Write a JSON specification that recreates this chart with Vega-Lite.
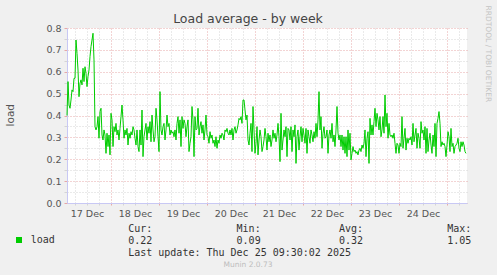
{
"$schema": "https://vega.github.io/schema/vega-lite/v6.json",
"width": 400, "height": 175,
"autosize": {"type": "none"},
"padding": {"left": 67, "top": 28, "right": 30, "bottom": 72},
"background": "#f0f0f0",
"config": {"view": {"fill": "#ffffff", "stroke": null}, "font": "DejaVu Sans"},
"title": {"text": "Load average - by week", "fontSize": 12.5, "font": "DejaVu Sans", "fontWeight": "normal", "color": "#444444", "anchor": "middle", "dx": -19, "dy": 24, "offset": 4},
"data": {"values": [
{"h":2,"v":0.40},{"h":2.5,"v":0.555},{"h":3,"v":0.448},{"h":3.5,"v":0.433},{"h":4,"v":0.471},{"h":4.5,"v":0.517},{"h":5,"v":0.509},{"h":5.5,"v":0.57},{"h":6,"v":0.57},{"h":6.5,"v":0.745},{"h":7,"v":0.684},{"h":7.5,"v":0.608},{"h":8,"v":0.486},{"h":8.5,"v":0.547},{"h":9,"v":0.563},{"h":9.5,"v":0.54},{"h":10,"v":0.616},{"h":10.5,"v":0.555},{"h":11,"v":0.623},{"h":11.5,"v":0.593},{"h":12,"v":0.532},{"h":12.5,"v":0.578},{"h":13,"v":0.608},{"h":13.5,"v":0.669},{"h":14,"v":0.715},{"h":14.5,"v":0.745},{"h":15,"v":0.776},{"h":15.5,"v":0.654},{"h":16,"v":0.349},{"h":16.5,"v":0.334},{"h":17,"v":0.349},{"h":17.5,"v":0.395},{"h":18,"v":0.296},{"h":18.5,"v":0.418},{"h":19,"v":0.433},{"h":19.5,"v":0.311},{"h":20,"v":0.288},{"h":20.5,"v":0.334},{"h":21,"v":0.311},{"h":21.5,"v":0.227},{"h":22,"v":0.319},{"h":22.5,"v":0.258},{"h":23,"v":0.311},{"h":23.5,"v":0.22},{"h":24,"v":0.41},{"h":24.5,"v":0.38},{"h":25,"v":0.258},{"h":25.5,"v":0.349},{"h":26,"v":0.326},{"h":26.5,"v":0.364},{"h":27,"v":0.311},{"h":27.5,"v":0.334},{"h":28,"v":0.288},{"h":28.5,"v":0.341},{"h":29,"v":0.395},{"h":29.5,"v":0.448},{"h":30,"v":0.38},{"h":30.5,"v":0.296},{"h":31,"v":0.334},{"h":31.5,"v":0.311},{"h":32,"v":0.341},{"h":32.5,"v":0.265},{"h":33,"v":0.319},{"h":33.5,"v":0.296},{"h":34,"v":0.326},{"h":34.5,"v":0.311},{"h":35,"v":0.349},{"h":35.5,"v":0.334},
{"h":36,"v":0.296},{"h":36.5,"v":0.265},{"h":37,"v":0.334},{"h":37.5,"v":0.258},{"h":38,"v":0.235},{"h":38.5,"v":0.334},{"h":39,"v":0.265},{"h":39.5,"v":0.425},{"h":40,"v":0.212},{"h":40.5,"v":0.303},{"h":41,"v":0.334},{"h":41.5,"v":0.364},{"h":42,"v":0.288},{"h":42.5,"v":0.349},{"h":43,"v":0.319},{"h":43.5,"v":0.372},{"h":44,"v":0.28},{"h":44.5,"v":0.402},{"h":45,"v":0.334},{"h":45.5,"v":0.28},{"h":46,"v":0.303},{"h":46.5,"v":0.433},{"h":47,"v":0.38},{"h":47.5,"v":0.303},{"h":48,"v":0.235},{"h":48.5,"v":0.509},{"h":49,"v":0.334},{"h":49.5,"v":0.311},{"h":50,"v":0.349},{"h":50.5,"v":0.364},{"h":51,"v":0.288},{"h":51.5,"v":0.334},{"h":52,"v":0.402},{"h":52.5,"v":0.349},{"h":53,"v":0.364},{"h":53.5,"v":0.311},{"h":54,"v":0.334},{"h":54.5,"v":0.319},{"h":55,"v":0.326},{"h":55.5,"v":0.303},{"h":56,"v":0.334},{"h":56.5,"v":0.288},{"h":57,"v":0.364},{"h":57.5,"v":0.395},{"h":58,"v":0.319},{"h":58.5,"v":0.38},{"h":59,"v":0.258},{"h":59.5,"v":0.395},{"h":60,"v":0.341},{"h":60.5,"v":0.38},{"h":61,"v":0.364},{"h":61.5,"v":0.303},{"h":62,"v":0.349},{"h":62.5,"v":0.38},{"h":63,"v":0.235},{"h":63.5,"v":0.273},{"h":64,"v":0.303},{"h":64.5,"v":0.441},{"h":65,"v":0.38},{"h":65.5,"v":0.212},{"h":66,"v":0.395},{"h":66.5,"v":0.334},{"h":67,"v":0.341},{"h":67.5,"v":0.433},{"h":68,"v":0.311},{"h":68.5,"v":0.349},{"h":69,"v":0.372},
{"h":69.5,"v":0.319},{"h":70,"v":0.357},{"h":70.5,"v":0.288},{"h":71,"v":0.334},{"h":71.5,"v":0.402},{"h":72,"v":0.311},{"h":72.5,"v":0.303},{"h":73,"v":0.273},{"h":73.5,"v":0.326},{"h":74,"v":0.296},{"h":74.5,"v":0.311},{"h":75,"v":0.273},{"h":75.5,"v":0.288},{"h":76,"v":0.258},{"h":76.5,"v":0.303},{"h":77,"v":0.25},{"h":77.5,"v":0.288},{"h":78,"v":0.273},{"h":78.5,"v":0.311},{"h":79,"v":0.296},{"h":79.5,"v":0.319},{"h":80,"v":0.311},{"h":80.5,"v":0.288},{"h":81,"v":0.334},{"h":81.5,"v":0.326},{"h":82,"v":0.341},{"h":82.5,"v":0.319},{"h":83,"v":0.311},{"h":83.5,"v":0.334},{"h":84,"v":0.311},{"h":84.5,"v":0.341},{"h":85,"v":0.288},{"h":85.5,"v":0.334},{"h":86,"v":0.349},{"h":86.5,"v":0.319},{"h":87,"v":0.334},{"h":87.5,"v":0.357},{"h":88,"v":0.387},{"h":88.5,"v":0.38},{"h":89,"v":0.395},{"h":89.5,"v":0.364},{"h":90,"v":0.471},{"h":90.5,"v":0.471},{"h":91,"v":0.425},{"h":91.5,"v":0.38},{"h":92,"v":0.402},{"h":92.5,"v":0.288},{"h":93,"v":0.265},{"h":93.5,"v":0.319},{"h":94,"v":0.364},{"h":94.5,"v":0.235},{"h":95,"v":0.441},{"h":95.5,"v":0.334},{"h":96,"v":0.227},{"h":96.5,"v":0.273},{"h":97,"v":0.349},{"h":97.5,"v":0.22},{"h":98,"v":0.288},{"h":98.5,"v":0.334},{"h":99,"v":0.303},{"h":99.5,"v":0.235},{"h":100,"v":0.258},{"h":100.5,"v":0.288},{"h":101,"v":0.341},{"h":101.5,"v":0.303},{"h":102,"v":0.242},{"h":102.5,"v":0.319},{"h":103,"v":0.28},
{"h":103.5,"v":0.311},{"h":104,"v":0.258},{"h":104.5,"v":0.288},{"h":105,"v":0.334},{"h":105.5,"v":0.296},{"h":106,"v":0.319},{"h":106.5,"v":0.28},{"h":107,"v":0.311},{"h":107.5,"v":0.364},{"h":108,"v":0.303},{"h":108.5,"v":0.189},{"h":109,"v":0.41},{"h":109.5,"v":0.242},{"h":110,"v":0.288},{"h":110.5,"v":0.334},{"h":111,"v":0.303},{"h":111.5,"v":0.349},{"h":112,"v":0.212},{"h":112.5,"v":0.341},{"h":113,"v":0.334},{"h":113.5,"v":0.288},{"h":114,"v":0.349},{"h":114.5,"v":0.235},{"h":115,"v":0.334},{"h":115.5,"v":0.303},{"h":116,"v":0.357},{"h":116.5,"v":0.181},{"h":117,"v":0.303},{"h":117.5,"v":0.334},{"h":118,"v":0.242},{"h":118.5,"v":0.303},{"h":119,"v":0.349},{"h":119.5,"v":0.28},{"h":120,"v":0.341},{"h":120.5,"v":0.311},{"h":121,"v":0.273},{"h":121.5,"v":0.341},{"h":122,"v":0.227},{"h":122.5,"v":0.334},{"h":123,"v":0.303},{"h":123.5,"v":0.273},{"h":124,"v":0.334},{"h":124.5,"v":0.311},{"h":125,"v":0.28},{"h":125.5,"v":0.326},{"h":126,"v":0.296},{"h":126.5,"v":0.364},{"h":127,"v":0.303},{"h":127.5,"v":0.38},{"h":128,"v":0.509},{"h":128.5,"v":0.334},{"h":129,"v":0.395},{"h":129.5,"v":0.25},{"h":130,"v":0.319},{"h":130.5,"v":0.349},{"h":131,"v":0.296},{"h":131.5,"v":0.303},{"h":132,"v":0.334},{"h":132.5,"v":0.227},{"h":133,"v":0.311},{"h":133.5,"v":0.334},{"h":134,"v":0.296},{"h":134.5,"v":0.364},{"h":135,"v":0.28},{"h":135.5,"v":0.311},{"h":136,"v":0.258},{"h":136.5,"v":0.334},{"h":137,"v":0.441},
{"h":137.5,"v":0.319},{"h":138,"v":0.288},{"h":138.5,"v":0.311},{"h":139,"v":0.258},{"h":139.5,"v":0.311},{"h":140,"v":0.242},{"h":140.5,"v":0.303},{"h":141,"v":0.227},{"h":141.5,"v":0.303},{"h":142,"v":0.212},{"h":142.5,"v":0.334},{"h":143,"v":0.242},{"h":143.5,"v":0.319},{"h":144,"v":0.197},{"h":144.5,"v":0.227},{"h":145,"v":0.258},{"h":145.5,"v":0.235},{"h":146,"v":0.242},{"h":146.5,"v":0.227},{"h":147,"v":0.235},{"h":147.5,"v":0.22},{"h":148,"v":0.242},{"h":148.5,"v":0.25},{"h":149,"v":0.235},{"h":149.5,"v":0.265},{"h":150,"v":0.25},{"h":150.5,"v":0.273},{"h":151,"v":0.334},{"h":151.5,"v":0.212},{"h":152,"v":0.296},{"h":152.5,"v":0.326},{"h":153,"v":0.181},{"h":153.5,"v":0.387},{"h":154,"v":0.311},{"h":154.5,"v":0.357},{"h":155,"v":0.311},{"h":155.5,"v":0.372},{"h":156,"v":0.433},{"h":156.5,"v":0.349},{"h":157,"v":0.41},{"h":157.5,"v":0.38},{"h":158,"v":0.334},{"h":158.5,"v":0.395},{"h":159,"v":0.303},{"h":159.5,"v":0.334},{"h":160,"v":0.395},{"h":160.5,"v":0.319},{"h":161,"v":0.494},{"h":161.5,"v":0.349},{"h":162,"v":0.41},{"h":162.5,"v":0.296},{"h":163,"v":0.364},{"h":163.5,"v":0.311},{"h":164,"v":0.303},{"h":164.5,"v":0.311},{"h":165,"v":0.296},{"h":165.5,"v":0.319},{"h":166,"v":0.273},{"h":166.5,"v":0.227},{"h":167,"v":0.273},{"h":167.5,"v":0.265},{"h":168,"v":0.227},{"h":168.5,"v":0.273},{"h":169,"v":0.258},{"h":169.5,"v":0.395},{"h":170,"v":0.25},{"h":170.5,"v":0.296},{"h":171,"v":0.341},
{"h":171.5,"v":0.242},{"h":172,"v":0.296},{"h":172.5,"v":0.273},{"h":173,"v":0.296},{"h":173.5,"v":0.288},{"h":174,"v":0.303},{"h":174.5,"v":0.265},{"h":175,"v":0.364},{"h":175.5,"v":0.28},{"h":176,"v":0.311},{"h":176.5,"v":0.341},{"h":177,"v":0.25},{"h":177.5,"v":0.319},{"h":178,"v":0.296},{"h":178.5,"v":0.25},{"h":179,"v":0.372},{"h":179.5,"v":0.319},{"h":180,"v":0.334},{"h":180.5,"v":0.288},{"h":181,"v":0.349},{"h":181.5,"v":0.227},{"h":182,"v":0.341},{"h":182.5,"v":0.235},{"h":183,"v":0.288},{"h":183.5,"v":0.319},{"h":184,"v":0.265},{"h":184.5,"v":0.227},{"h":185,"v":0.311},{"h":185.5,"v":0.258},{"h":186,"v":0.364},{"h":186.5,"v":0.212},{"h":187,"v":0.364},{"h":187.5,"v":0.387},{"h":188,"v":0.418},{"h":188.5,"v":0.364},{"h":189,"v":0.258},{"h":189.5,"v":0.28},{"h":190,"v":0.265},{"h":190.5,"v":0.273},{"h":191,"v":0.258},{"h":191.5,"v":0.212},{"h":192,"v":0.265},{"h":192.5,"v":0.326},{"h":193,"v":0.303},{"h":193.5,"v":0.235},{"h":194,"v":0.341},{"h":194.5,"v":0.258},{"h":195,"v":0.273},{"h":195.5,"v":0.227},{"h":196,"v":0.258},{"h":196.5,"v":0.265},{"h":197,"v":0.273},{"h":197.5,"v":0.296},{"h":198,"v":0.25},{"h":198.5,"v":0.235},{"h":199,"v":0.28},{"h":199.5,"v":0.258},{"h":200,"v":0.28},{"h":200.5,"v":0.265},{"h":201,"v":0.235},{"h":201.5,"v":0.227}
]},
"resolve": {"axis": {"x": "independent", "y": "independent"}},
"layer": [
{
"mark": {"type": "line", "strokeOpacity": 0},
"encoding": {
"x": {"field": "h", "type": "quantitative", "scale": {"domain": [2, 202], "nice": false, "zero": false},
"axis": {"orient": "bottom", "values": [6,12,18,30,36,42,54,60,66,78,84,90,102,108,114,126,132,138,150,156,162,174,180,186,198], "grid": true, "gridColor": "#d4d4d4", "gridDash": [1,2], "gridWidth": 1, "labels": false, "ticks": true, "tickColor": "#d4d4d4", "tickSize": 2, "domain": false,
"title": "Munin 2.0.73", "titleFont": "DejaVu Sans", "titleFontSize": 7.5, "titleFontWeight": "normal", "titleColor": "#bdbdbd", "titleX": 180.5, "titleY": 63.5, "titleAlign": "center", "titleBaseline": "alphabetic", "titleAngle": 0}},
"y": {"field": "v", "type": "quantitative", "scale": {"domain": [0, 0.8], "nice": false},
"axis": {"orient": "left", "values": [0.05,0.15,0.25,0.35,0.45,0.55,0.65,0.75], "grid": true, "gridColor": "#d4d4d4", "gridDash": [1,2], "gridWidth": 1, "labels": false, "ticks": true, "tickColor": "#d4d4d4", "tickSize": 3, "domain": false,
"title": "RRDTOOL / TOBI OETIKER", "titleFont": "DejaVu Sans", "titleFontSize": 7.5, "titleFontWeight": "normal", "titleColor": "#c4c4c4", "titleAngle": 90, "titleX": 420.7, "titleY": -23, "titleAlign": "left", "titleBaseline": "middle"}}
}
},
{
"mark": {"type": "line", "strokeOpacity": 0},
"encoding": {
"x": {"field": "h", "type": "quantitative", "scale": {"domain": [2, 202], "nice": false, "zero": false},
"axis": {"orient": "bottom", "values": [24,48,72,96,120,144,168,192], "grid": true, "gridColor": "#e6a8a8", "gridDash": [1,2], "gridWidth": 1, "labels": false, "ticks": true, "tickColor": "#e6a8a8", "tickSize": 2, "domain": false,
"title": ["Cur:\u00a0\u00a0\u00a0\u00a0\u00a0\u00a0\u00a0\u00a0\u00a0\u00a0\u00a0\u00a0\u00a0\u00a0Min:\u00a0\u00a0\u00a0\u00a0\u00a0\u00a0\u00a0\u00a0\u00a0\u00a0\u00a0\u00a0\u00a0Avg:\u00a0\u00a0\u00a0\u00a0\u00a0\u00a0\u00a0\u00a0\u00a0\u00a0\u00a0\u00a0\u00a0\u00a0Max:", "\u00a0\u00a00.22\u00a0\u00a0\u00a0\u00a0\u00a0\u00a0\u00a0\u00a0\u00a0\u00a0\u00a0\u00a0\u00a0\u00a00.09\u00a0\u00a0\u00a0\u00a0\u00a0\u00a0\u00a0\u00a0\u00a0\u00a0\u00a0\u00a0\u00a00.32\u00a0\u00a0\u00a0\u00a0\u00a0\u00a0\u00a0\u00a0\u00a0\u00a0\u00a0\u00a0\u00a0\u00a01.05", "\u00a0\u00a0\u00a0\u00a0\u00a0\u00a0\u00a0\u00a0\u00a0\u00a0\u00a0\u00a0\u00a0\u00a0\u00a0\u00a0\u00a0\u00a0\u00a0\u00a0\u00a0\u00a0Last\u00a0update:\u00a0Thu\u00a0Dec\u00a025\u00a009:30:02\u00a02025"],
"titleFont": "DejaVu Sans Mono", "titleFontSize": 10, "titleFontWeight": "normal", "titleColor": "#333333", "titleX": 60.7, "titleY": 28.7, "titleAlign": "left", "titleBaseline": "alphabetic", "titleLineHeight": 12, "titleAngle": 0}},
"y": {"field": "v", "type": "quantitative", "scale": {"domain": [0, 0.8], "nice": false},
"axis": {"orient": "left", "values": [0,0.1,0.2,0.3,0.4,0.5,0.6,0.7,0.8], "format": ".1f", "grid": true, "gridColor": "#e6a8a8", "gridDash": [1,2], "gridWidth": 1, "labels": true, "labelFont": "DejaVu Sans", "labelFontSize": 9.5, "labelColor": "#555555", "labelPadding": 3, "ticks": true, "tickColor": "#e6a8a8", "tickSize": 3, "domain": false,
"title": "load", "titleFont": "DejaVu Sans", "titleFontSize": 10.5, "titleFontWeight": "normal", "titleColor": "#555555", "titleAngle": -90, "titleX": -57, "titleY": 86.7, "titleAlign": "center", "titleBaseline": "middle"}}
}
},
{
"mark": {"type": "line", "strokeWidth": 1},
"encoding": {
"x": {"field": "h", "type": "quantitative", "scale": {"domain": [2, 202], "nice": false, "zero": false},
"axis": {"orient": "bottom", "values": [12,36,60,84,108,132,156,180], "labelExpr": "(floor(datum.value/24)+17) + ' Dec'", "grid": false, "ticks": false, "tickSize": 0, "labelPadding": 13, "labelBaseline": "alphabetic", "labelFont": "DejaVu Sans", "labelFontSize": 9.5, "labelColor": "#555555", "labelFlush": false, "labelOverlap": false, "domain": true, "domainColor": "#c8c8f4", "domainWidth": 1, "title": null}},
"y": {"field": "v", "type": "quantitative", "scale": {"domain": [0, 0.8], "nice": false},
"axis": {"orient": "left", "grid": false, "ticks": false, "labels": false, "domain": true, "domainColor": "#c8c8f4", "domainWidth": 1, "title": null}},
"color": {"datum": "load", "type": "nominal", "scale": {"range": ["#00cc00"]},
"legend": {"orient": "none", "legendX": -53, "legendY": 207, "title": null, "padding": 0, "labelFont": "DejaVu Sans Mono", "labelFontSize": 10, "labelColor": "#333333", "labelOffset": 6.7, "symbolType": "square", "symbolSize": 36, "symbolStrokeWidth": 0, "symbolFillColor": "#00cc00",
"encode": {"symbols": {"update": {"fill": {"value": "#00cc00"}, "stroke": {"value": "#00cc00"}, "strokeWidth": {"value": 0}, "opacity": {"value": 1}, "shape": {"value": "square"}, "size": {"value": 36}}}}}}
}
}
]
}
